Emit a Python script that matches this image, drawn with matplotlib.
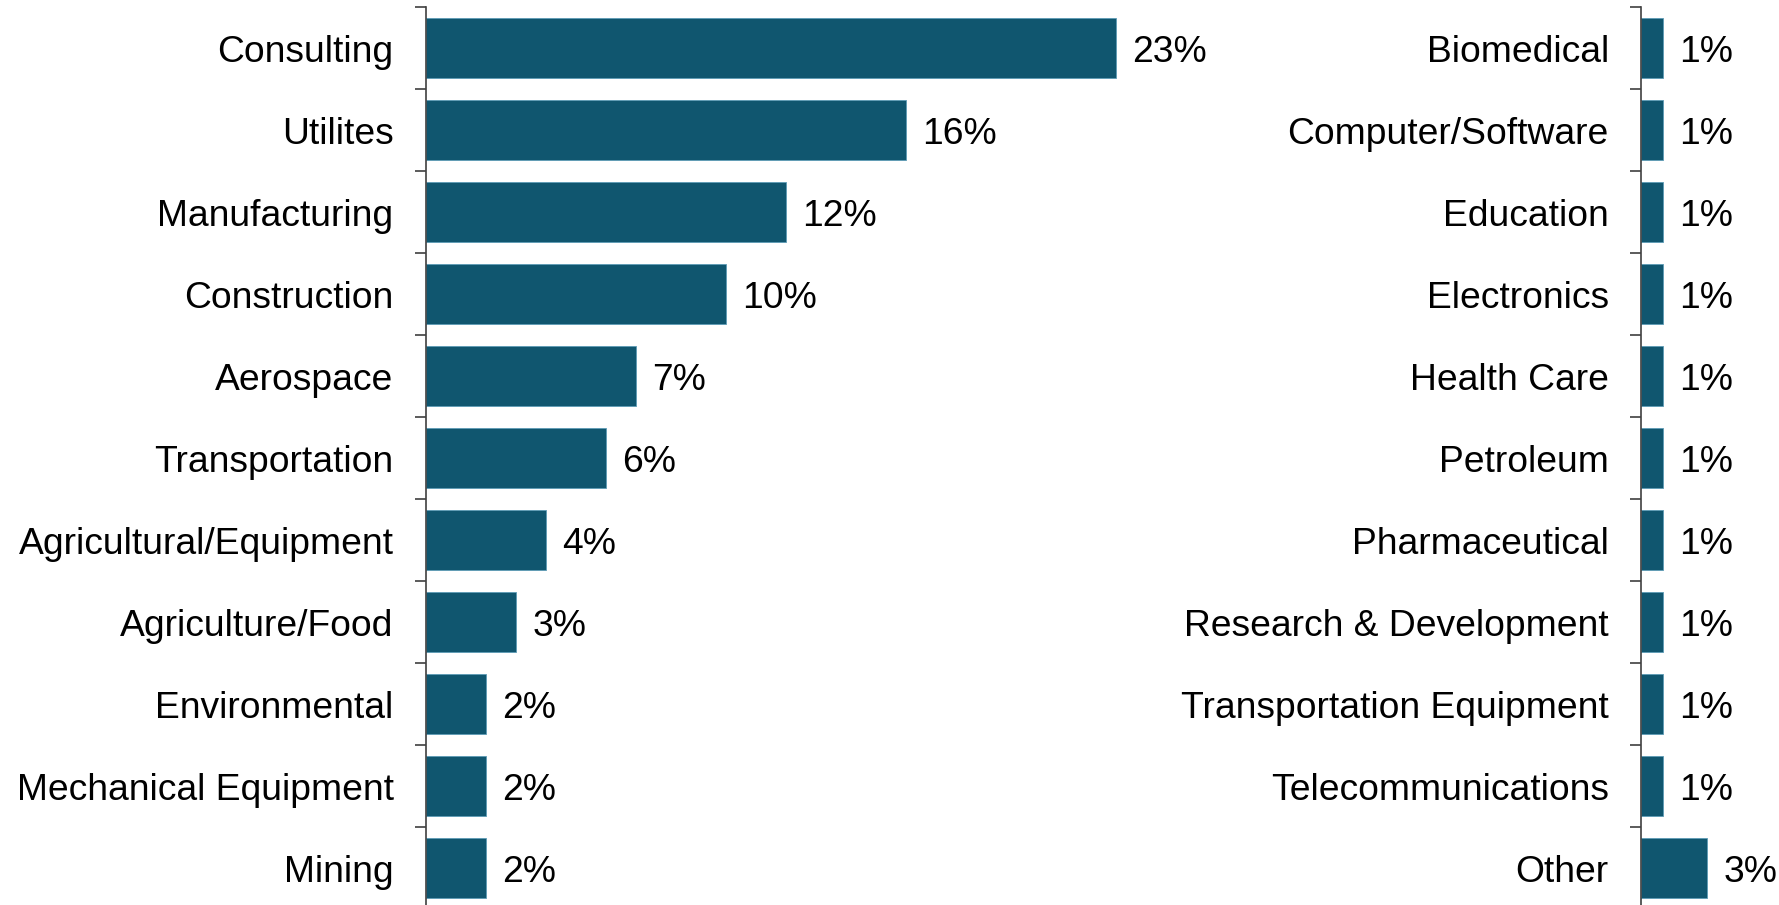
import matplotlib
matplotlib.use("Agg")
import matplotlib.pyplot as plt
import numpy as np

plt.rcParams['font.family'] = ['Liberation Sans', 'DejaVu Sans']

left_labels = ["Consulting", "Utilites", "Manufacturing", "Construction", "Aerospace",
               "Transportation", "Agricultural/Equipment", "Agriculture/Food",
               "Environmental", "Mechanical Equipment", "Mining"]
left_values = [23, 16, 12, 10, 7, 6, 4, 3, 2, 2, 2]

right_labels = ["Biomedical", "Computer/Software", "Education", "Electronics", "Health Care",
                "Petroleum", "Pharmaceutical", "Research & Development",
                "Transportation Equipment", "Telecommunications", "Other"]
right_values = [1, 1, 1, 1, 1, 1, 1, 1, 1, 1, 3]

bar_color = "#10566f"
W, H = 1779, 905
fig = plt.figure(figsize=(W / 100, H / 100), dpi=100)

top_px = 7
ax_h = (H - top_px) / H


def draw_panel(ax, labels, values, x_max):
    y = np.arange(len(labels))
    ax.barh(y, values, height=0.74, color=bar_color, edgecolor="#5d9bb5", linewidth=0.6)
    for yi, v in zip(y, values):
        ax.annotate(f"{v}%", (v, yi), xytext=(12, 0), textcoords="offset points",
                    va="center_baseline", ha="left", fontsize=26.8, color="black")
    ax.set_ylim(-0.5 + 10.95, -0.5)
    ax.set_xlim(0, x_max)
    ax.set_yticks(y)
    ax.set_yticklabels(labels, fontsize=26.8)
    ax.set_yticks(np.arange(-0.5, 10, 1.0), minor=True)
    ax.tick_params(axis="y", which="major", length=0, pad=23)
    ax.tick_params(axis="y", which="minor", length=8, width=1.2, color="#404040", direction="out")
    ax.set_xticks([])
    for s in ["top", "right", "bottom"]:
        ax.spines[s].set_visible(False)
    ax.spines["left"].set_color("#404040")
    ax.spines["left"].set_linewidth(1.2)


# left panel: 30 px per percent
lx0 = 425.5
lx1 = 1230
ax1 = fig.add_axes([lx0 / W, 0, (lx1 - lx0) / W, ax_h])
draw_panel(ax1, left_labels, left_values, (lx1 - lx0) / 30.0)

# right panel: ~22 px per percent
rx0 = 1640.7
rx1 = W
ax2 = fig.add_axes([rx0 / W, 0, (rx1 - rx0) / W, ax_h])
draw_panel(ax2, right_labels, right_values, (rx1 - rx0) / 22.2)

fig.savefig("out.png", dpi=100)
